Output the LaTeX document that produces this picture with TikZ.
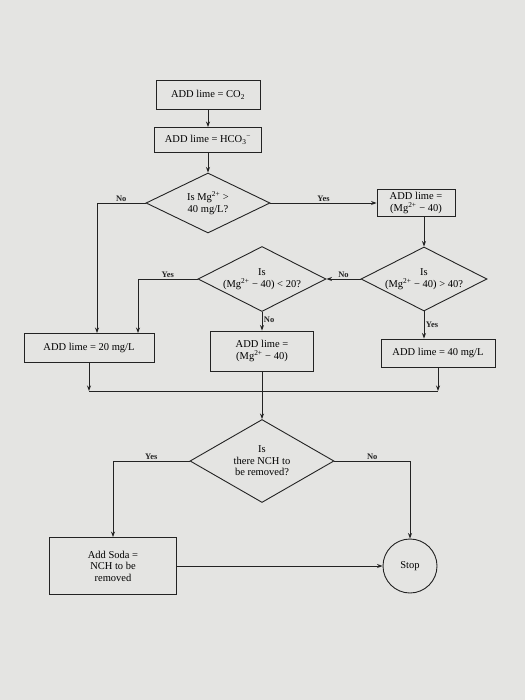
\documentclass[tikz,border=0pt]{standalone}
\usepackage{fontspec}
\setmainfont{Liberation Serif}
\usetikzlibrary{shapes,arrows.meta}
\definecolor{paper}{RGB}{228,228,226}
\definecolor{ink}{RGB}{35,35,35}

\begin{document}
\begin{tikzpicture}[x=1pt,y=-1pt,font=\fontsize{10.5}{11.5}\selectfont]
        \tikzstyle{box}=[rectangle,draw=ink,line width=0.9pt,fill=paper,align=center,inner sep=1.5pt]
        \tikzstyle{test}=[diamond,draw=ink,line width=0.9pt,fill=paper,align=center,inner sep=0pt,aspect=2]
        \tikzstyle{flow}=[draw=ink,line width=0.75pt,-{Stealth[length=5.5pt,width=4pt]}]
        \tikzstyle{lbl}=[font=\fontsize{8.5}{9}\selectfont\bfseries,text=ink,inner sep=1.5pt]
        \fill[paper] (0,0) rectangle (525,700);
        \useasboundingbox (0,0) rectangle (525,700);
        % top of the chart
        \node[box,minimum width=104pt,minimum height=29pt] (co2) at (208,95) {ADD lime = CO\textsubscript{2}};
        \node[box,minimum width=107pt,minimum height=25pt] (hco3) at (208,140) {ADD lime = HCO\textsubscript{3}\textsuperscript{−}};
        \node[test,minimum width=124pt,minimum height=60pt] (mg40) at (208,203) {Is Mg\textsuperscript{2+} >\\40 mg/L?};
        \node[box,minimum width=78pt,minimum height=27pt] (limemg) at (416,203) {ADD lime =\\(Mg\textsuperscript{2+} − 40)};
        % second row of tests
        \node[test,minimum width=128pt,minimum height=65pt] (lt20) at (262,279) {Is\\(Mg\textsuperscript{2+} − 40) < 20?};
        \node[test,minimum width=126pt,minimum height=64pt] (gt40) at (424,279) {Is\\(Mg\textsuperscript{2+} − 40) > 40?};
        % lime boxes
        \node[box,minimum width=130pt,minimum height=29pt] (lime20) at (89,348) {ADD lime = 20 mg/L};
        \node[box,minimum width=103pt,minimum height=40pt] (limediff) at (262,351) {ADD lime =\\(Mg\textsuperscript{2+} − 40)};
        \node[box,minimum width=114pt,minimum height=28pt] (lime40) at (438,353) {ADD lime = 40 mg/L};
        \coordinate (merge) at (262,391);
        % soda and stop
        \node[test,minimum width=144pt,minimum height=83pt] (nch) at (262,461) {Is\\there NCH to\\be removed?};
        \node[box,minimum width=127pt,minimum height=57pt] (soda) at (113,566) {Add Soda =\\NCH to be\\removed};
        \node[circle,draw=ink,line width=0.9pt,fill=paper,minimum size=54pt,inner sep=0pt] (stop) at (410,566) {Stop};

        \draw[flow] (co2) -- (hco3);
        \draw[flow] (hco3) -- (mg40);
        \draw[flow] (mg40.west) -| node[lbl,pos=0.25,above] {No} ([xshift=8pt]lime20.north);
        \draw[flow] (mg40.east) -- node[lbl,above] {Yes} (limemg.west);
        \draw[flow] (limemg.south -| gt40.north) -- (gt40.north);
        \draw[flow] (gt40.west) -- node[lbl,above] {No} (lt20.east);
        \draw[flow] (lt20.west) -| node[lbl,pos=0.25,above] {Yes} ([xshift=49pt]lime20.north);
        \draw[flow] (lt20.south) -- node[lbl,right,pos=0.4] {No} (limediff.north);
        \draw[flow] (gt40.south) -- node[lbl,right,pos=0.5] {Yes} (gt40.south |- lime40.north);
        \draw[flow] (lime20.south) -- (lime20.south |- merge);
        \draw[flow] (lime40.south) -- (lime40.south |- merge);
        \draw[draw=ink,line width=0.75pt] (lime20.south |- merge) -- (lime40.south |- merge);
        \draw[flow] (limediff.south) -- (nch.north);
        \draw[flow] (nch.west) -| node[lbl,pos=0.25,above] {Yes} (soda.north);
        \draw[flow] (nch.east) -| node[lbl,pos=0.25,above] {No} (stop.north);
        \draw[flow] (soda.east) -- (stop.west);
      \end{tikzpicture}
\end{document}
